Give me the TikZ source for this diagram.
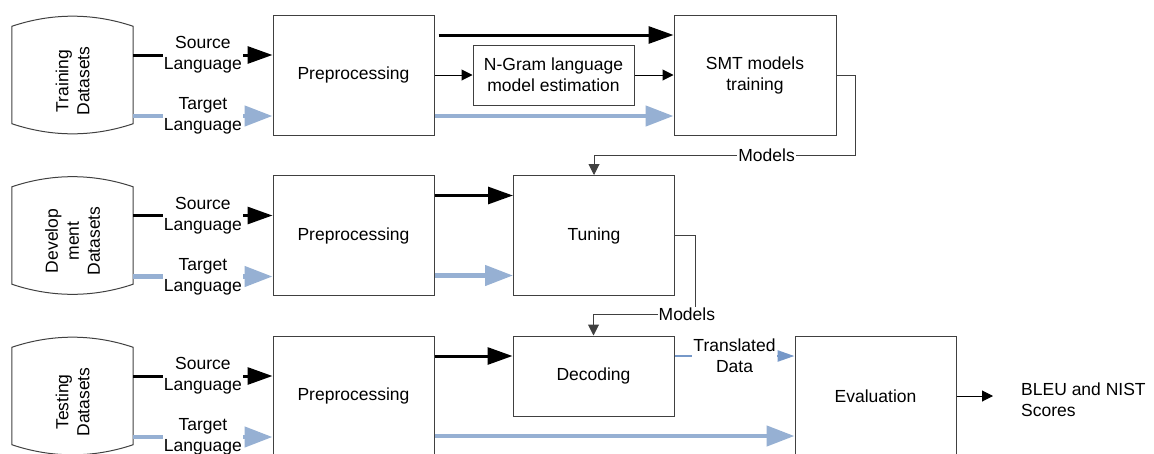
\documentclass[tikz,border=0pt]{standalone}
\usepackage{fontspec}
\setmainfont{Liberation Sans}
\usetikzlibrary{arrows.meta}
\definecolor{tgtblue}{RGB}{150,176,211}
\definecolor{outblue}{RGB}{118,152,200}
\definecolor{edgegray}{RGB}{64,64,64}
% outline of a data store (cylinder without inner rim)
\newcommand{\datastore}[1]{%
  \draw[edgegray,line width=1pt] (#1.north west) .. controls +(40,-13.5) and +(-40,-13.5) .. (#1.north east)
    -- (#1.south east) .. controls +(-40,13.5) and +(40,13.5) .. (#1.south west) -- cycle;}
\begin{document}
\begin{tikzpicture}[x=1pt,y=-1pt,
    font=\fontsize{17.5}{21}\selectfont,
    store/.style={minimum width=121pt,minimum height=97pt,inner sep=0pt},
    storetext/.style={rotate=90,align=center,inner sep=0pt},
    stage/.style={draw=edgegray,line width=1pt,minimum width=161pt,minimum height=120pt,align=center,inner sep=0pt},
    lbl/.style={fill=white,text=black,inner sep=1pt,align=center},
    src/.style={line width=3pt,-{Triangle[length=25pt,width=17pt]}},
    tgt/.style={tgtblue,line width=4.5pt,-{Triangle[length=28pt,width=20pt]}},
    trans/.style={outblue,line width=2.5pt,-{Triangle[length=17pt,width=11pt]}},
    link/.style={line width=1pt,-{Triangle[length=11pt,width=11pt]}}]
  \useasboundingbox (0,0) rectangle (1154,453);

  %training%
  \node[store] (train) at (72.5,75) {};
  \datastore{train}
  \node[storetext] (trainlbl) at (72.5,81) {Training\\Datasets};
  \node[stage] (prep1) at (353.5,75) {Preprocessing};
  \node[stage,minimum height=60pt] (ngram) at (553.5,75) {N-Gram language\\model estimation};
  \node[stage,minimum width=162pt] (smt) at (755,75) {SMT models\\training};

  %development%
  \node[store] (devel) at (72.5,235.5) {};
  \datastore{devel}
  \node[storetext] (devellbl) at (72.5,241) {Develop\\ment\\Datasets};
  \node[stage] (prep2) at (353.5,235.5) {Preprocessing};
  \node[stage] (tune) at (594,235.5) {Tuning};

  %testing%
  \node[store] (test) at (72.5,396) {};
  \datastore{test}
  \node[storetext] (testlbl) at (72.5,402) {Testing\\Datasets};
  \node[stage] (prep3) at (353.5,396) {Preprocessing};
  \node[stage,minimum height=80pt] (dec) at (593.5,376) {Decoding};
  \node[stage] (eval) at (875.5,396) {Evaluation};
  \node[align=left,anchor=west,inner sep=0pt] (bleu) at (1021,400) {BLEU and NIST\\Scores};
  \coordinate (scores) at (993,396);

  \draw[src] ([yshift=20pt]train.east) -- node[lbl]{Source\\Language} ([yshift=20pt]prep1.west);
  \draw[tgt] ([yshift=-41pt]train.east) -- node[lbl]{Target\\Language} ([yshift=-41pt]prep1.west);
  \draw[src,shorten <=4pt] ([yshift=40pt]prep1.east) -- ([yshift=40pt]smt.west);
  \draw[link] (prep1) -- (ngram);
  \draw[link] (ngram) -- (smt);
  \draw[tgt] ([yshift=-41pt]prep1.east) -- ([yshift=-41pt]smt.west);
  \draw[link,edgegray] (smt.east) -- ++(19,0) |- node[lbl,pos=0.67]{Models} ([yshift=20pt]tune.north) -- (tune.north);

  \draw[src] ([yshift=20pt]devel.east) -- node[lbl]{Source\\Language} ([yshift=20pt]prep2.west);
  \draw[tgt] ([yshift=-41pt]devel.east) -- node[lbl]{Target\\Language} ([yshift=-41pt]prep2.west);
  \draw[src] ([yshift=40pt]prep2.east) -- ([yshift=40pt]tune.west);
  \draw[tgt] ([yshift=-40pt]prep2.east) -- ([yshift=-40pt]tune.west);
  \draw[link,edgegray] (tune.east) -- ++(20,0) |- node[lbl,pos=0.54]{Models} ([yshift=21pt]dec.north) -- (dec.north);

  \draw[src] ([yshift=20pt]test.east) -- node[lbl]{Source\\Language} ([yshift=20pt]prep3.west);
  \draw[tgt] ([yshift=-41pt]test.east) -- node[lbl]{Target\\Language} ([yshift=-41pt]prep3.west);
  \draw[src] ([yshift=40pt]prep3.east) -- ([yshift=20pt]dec.west);
  \draw[tgt] ([yshift=-40pt]prep3.east) -- ([yshift=-40pt]eval.west);
  \draw[trans] ([yshift=20pt]dec.east) -- node[lbl]{Translated\\Data} ([yshift=40pt]eval.west);
  \draw[link] (eval.east) -- (scores);
\end{tikzpicture}
\end{document}
